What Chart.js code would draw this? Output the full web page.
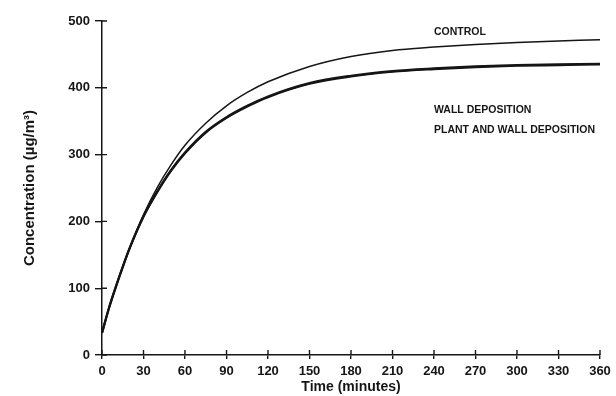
<!DOCTYPE html>
<html>
<head>
<meta charset="utf-8">
<script src="https://cdn.jsdelivr.net/npm/chart.js@4/dist/chart.umd.min.js"></script>
<style>
html, body { margin: 0; padding: 0; background: #fff; }
</style>
</head>
<body>
<canvas id="chart" width="616" height="396"></canvas>
<script>
// values (minutes -> µg/m3)
const minutes        = [0, 5, 10, 15, 20, 30, 40, 50, 60, 75, 90, 105, 120, 150, 180, 210, 240, 270, 300, 330, 360];
const control        = [33, 70, 102, 132, 160, 210, 251, 285, 314, 347, 373, 393, 409, 432, 447, 456, 461, 465, 468, 470, 472];
const wallDeposition = [33, 70, 102, 132, 160, 208, 245, 277, 303, 334, 356, 373, 387, 407, 418, 425, 429, 432, 434, 435, 436];
const plantAndWall   = [33, 70, 102, 132, 160, 207, 244, 276, 302, 333, 355, 372, 386, 406, 417, 424, 428, 431, 433, 434, 435];
const seriesNames    = ['CONTROL', 'WALL DEPOSITION', 'PLANT AND WALL DEPOSITION'];
const xTicks = [0, 30, 60, 90, 120, 150, 180, 210, 240, 270, 300, 330, 360];
const yTicks = [0, 100, 200, 300, 400, 500];

const ink = '#151515';
const fontFamily = '"Liberation Sans", Arial, sans-serif';
const pts = vals => minutes.map((m, i) => ({ x: m, y: vals[i] }));

const line = (label, vals, width) => ({
 label,
 data: pts(vals),
 borderColor: ink,
 borderWidth: width,
 pointRadius: 0,
 fill: false,
 cubicInterpolationMode: 'monotone',
});

// tick marks cross the axis, plus the hand-placed curve labels
const figureExtras = {
 id: 'figureExtras',
 afterDraw(chart) {
 const { ctx, chartArea: a, scales: { x, y } } = chart;
 ctx.save();
 ctx.strokeStyle = ink;
 ctx.lineWidth = 1.4;
 ctx.beginPath();
 y.ticks.forEach((t, i) => {
 const py = y.getPixelForTick(i);
 ctx.moveTo(a.left, py);
 ctx.lineTo(a.left + 5, py);
 });
 x.ticks.forEach((t, i) => {
 const px = x.getPixelForTick(i);
 ctx.moveTo(px, a.bottom);
 ctx.lineTo(px, a.bottom - 5);
 });
 ctx.stroke();

 ctx.fillStyle = ink;
 ctx.font = 'bold 10.5px ' + fontFamily;
 ctx.textBaseline = 'alphabetic';
 const lx = x.getPixelForValue(240);
 ctx.fillText(seriesNames[0], lx, y.getPixelForValue(479));
 ctx.fillText(seriesNames[1], lx, y.getPixelForValue(362));
 ctx.fillText(seriesNames[2], lx, y.getPixelForValue(332));
 ctx.restore();
 }
};

new Chart(document.getElementById('chart'), {
 type: 'line',
 data: {
 datasets: [
 line(seriesNames[0], control, 1.5),
 line(seriesNames[1], wallDeposition, 2.2),
 line(seriesNames[2], plantAndWall, 2.2),
 ],
 },
 options: {
 responsive: false,
 animation: false,
 devicePixelRatio: 1,
 layout: { padding: { top: 21, right: 16, left: 0, bottom: 0 } },
 plugins: { legend: { display: false }, tooltip: { enabled: false } },
 scales: {
 x: {
 type: 'linear',
 min: 0,
 max: 360,
 afterBuildTicks: s => { s.ticks = xTicks.map(v => ({ value: v })); },
 afterFit: s => { s.height = 41; },
 border: { color: ink, width: 1.5 },
 grid: { drawOnChartArea: false, color: ink, lineWidth: 1.4, tickLength: 4 },
 ticks: { color: ink, padding: 5, maxRotation: 0, font: { family: fontFamily, size: 13, weight: 'bold' } },
 title: {
 display: true,
 text: 'Time (minutes)',
 color: ink,
 padding: { top: 0, bottom: 0 },
 font: { family: fontFamily, size: 14, weight: 'bold' },
 },
 },
 y: {
 min: 0,
 max: 500,
 afterBuildTicks: s => { s.ticks = yTicks.map(v => ({ value: v })); },
 afterFit: s => { s.width = 102; },
 border: { color: ink, width: 1.5 },
 grid: { drawOnChartArea: false, color: ink, lineWidth: 1.4, tickLength: 7 },
 ticks: { color: ink, padding: 5, font: { family: fontFamily, size: 13, weight: 'bold' } },
 title: {
 display: true,
 text: 'Concentration (µg/m³)',
 color: ink,
 padding: { top: 21, bottom: 0 },
 font: { family: fontFamily, size: 15, weight: 'bold' },
 },
 },
 },
 },
 plugins: [figureExtras],
});
</script>
</body>
</html>
